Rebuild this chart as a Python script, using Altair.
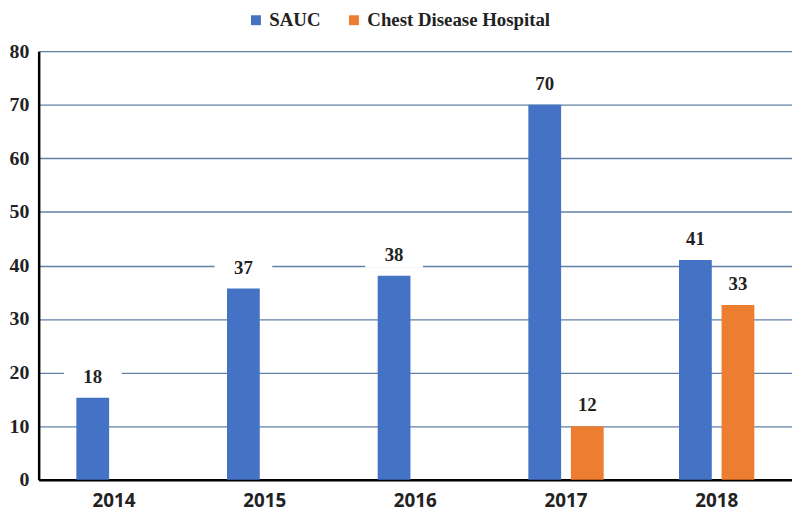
import altair as alt
import pandas as pd

years = ["2014", "2015", "2016", "2017", "2018"]
series = ["SAUC", "Chest Disease Hospital"]
colors = ["#4472C4", "#ED7D31"]

sauc_values = [15.3, 35.7, 38.1, 70.0, 41.0]
chest_values = [None, None, None, 10.0, 32.6]
sauc_labels = ["18", "37", "38", "70", "41"]
chest_labels = [None, None, None, "12", "33"]

rows = []
for y, v, l in zip(years, sauc_values, sauc_labels):
    if v is not None:
        rows.append({"year": y, "series": series[0], "value": v, "label": l})
for y, v, l in zip(years, chest_values, chest_labels):
    if v is not None:
        rows.append({"year": y, "series": series[1], "value": v, "label": l})
df = pd.DataFrame(rows)

serif = "Liberation Serif"

x_enc = alt.X(
    "year:N",
    sort=years,
    scale=alt.Scale(paddingInner=0.5, paddingOuter=0.25),
    axis=alt.Axis(
        title=None, labelAngle=0, ticks=False, domainColor="black", domainWidth=2.5,
        labelFont="Open Sans", labelFontWeight="bold", labelFontSize=19,
        labelColor="#222222", labelPadding=12, grid=False,
    ),
)
xoff = alt.XOffset("series:N", sort=series,
                   scale=alt.Scale(domain=series, paddingInner=0.23, paddingOuter=0))
y_enc = alt.Y(
    "value:Q",
    scale=alt.Scale(domain=[0, 80], nice=False),
    axis=alt.Axis(
        title=None, values=list(range(0, 81, 10)), ticks=False,
        grid=True, gridColor="#5f80a8", gridWidth=1.4,
        domainColor="black", domainWidth=2.5,
        labelFont=serif, labelFontWeight="bold", labelFontSize=20,
        labelColor="#222222", labelPadding=10,
    ),
)

base = alt.Chart(df).encode(x=x_enc, xOffset=xoff, y=y_enc)

boxes = base.mark_point(
    shape="M-1,-0.45L1,-0.45L1,0.45L-1,0.45Z", size=3400, filled=True,
    color="white", opacity=1, strokeWidth=0, yOffset=-21,
)

bars = base.mark_bar().encode(
    color=alt.Color(
        "series:N", sort=series,
        scale=alt.Scale(domain=series, range=colors),
        legend=alt.Legend(
            title=None, orient="none", direction="horizontal",
            legendX=210, legendY=-41, symbolType="square", symbolSize=100,
            symbolStrokeWidth=0, labelFont=serif, labelFontWeight="bold",
            labelFontSize=19, labelColor="#222222", labelOffset=4,
            labelLimit=400, columnPadding=24,
        ),
    )
)

labels = base.mark_text(
    font=serif, fontWeight="bold", fontSize=19, dy=-21, baseline="middle",
    color="#222222",
).encode(text="label:N")

chart = alt.layer(boxes, bars, labels).properties(
    width=761, height=433,
    autosize=alt.AutoSizeParams(type="none"),
    padding={"left": 31, "top": 41, "right": 0, "bottom": 34},
).configure_view(stroke=None)

chart.save("out.html", embed_options={"renderer": "svg", "actions": False})
